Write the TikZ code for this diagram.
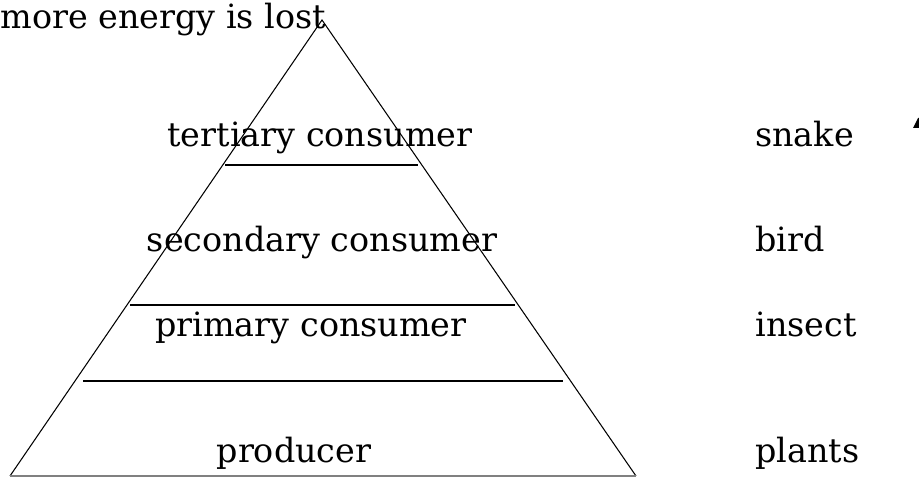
\documentclass[tikz,border=0pt]{standalone}
\usepackage{fontspec}
\setmainfont{DejaVu Serif}

\begin{document}
\begin{tikzpicture}[lvl/.style={anchor=base, inner sep=0pt, font=\fontsize{19}{21}\selectfont}]
\useasboundingbox (0,0) rectangle (18.38,9.54);

% Pyramid
\draw[semithick] (0.2,0.02) -- (6.44,9.14) -- (12.72,0.02);
\draw[semithick, gray] (0.2,0.02) -- (12.72,0.02);

% Level separators
\draw[semithick] (4.5,6.24) -- (8.36,6.24);
\draw[semithick] (2.6,3.44) -- (10.3,3.44);
\draw[semithick] (1.66,1.92) -- (11.26,1.92);

% Levels
\node[lvl] (tert) at (6.4,6.6) {tertiary consumer};
\node[lvl] (sec) at (6.44,4.5) {secondary consumer};
\node[lvl] (prim) at (6.22,2.8) {primary consumer};
\node[lvl] (prod) at (5.88,0.28) {producer};

% Examples
\node[lvl, anchor=base west] (snake) at (15.1,6.6) {snake};
\node[lvl, anchor=base west] (bird) at (15.1,4.5) {bird};
\node[lvl, anchor=base west] (insect) at (15.1,2.8) {insect};
\node[lvl, anchor=base west] (plants) at (15.1,0.28) {plants};

% Top label
\node[lvl, anchor=base west] (lost) at (0,8.96) {more energy is lost};

% Arrow tip (cut off)
\fill (18.26,6.98) -- (18.36,7.18) -- (18.38,7.18) -- (18.38,6.98) -- cycle;
\end{tikzpicture}
\end{document}
